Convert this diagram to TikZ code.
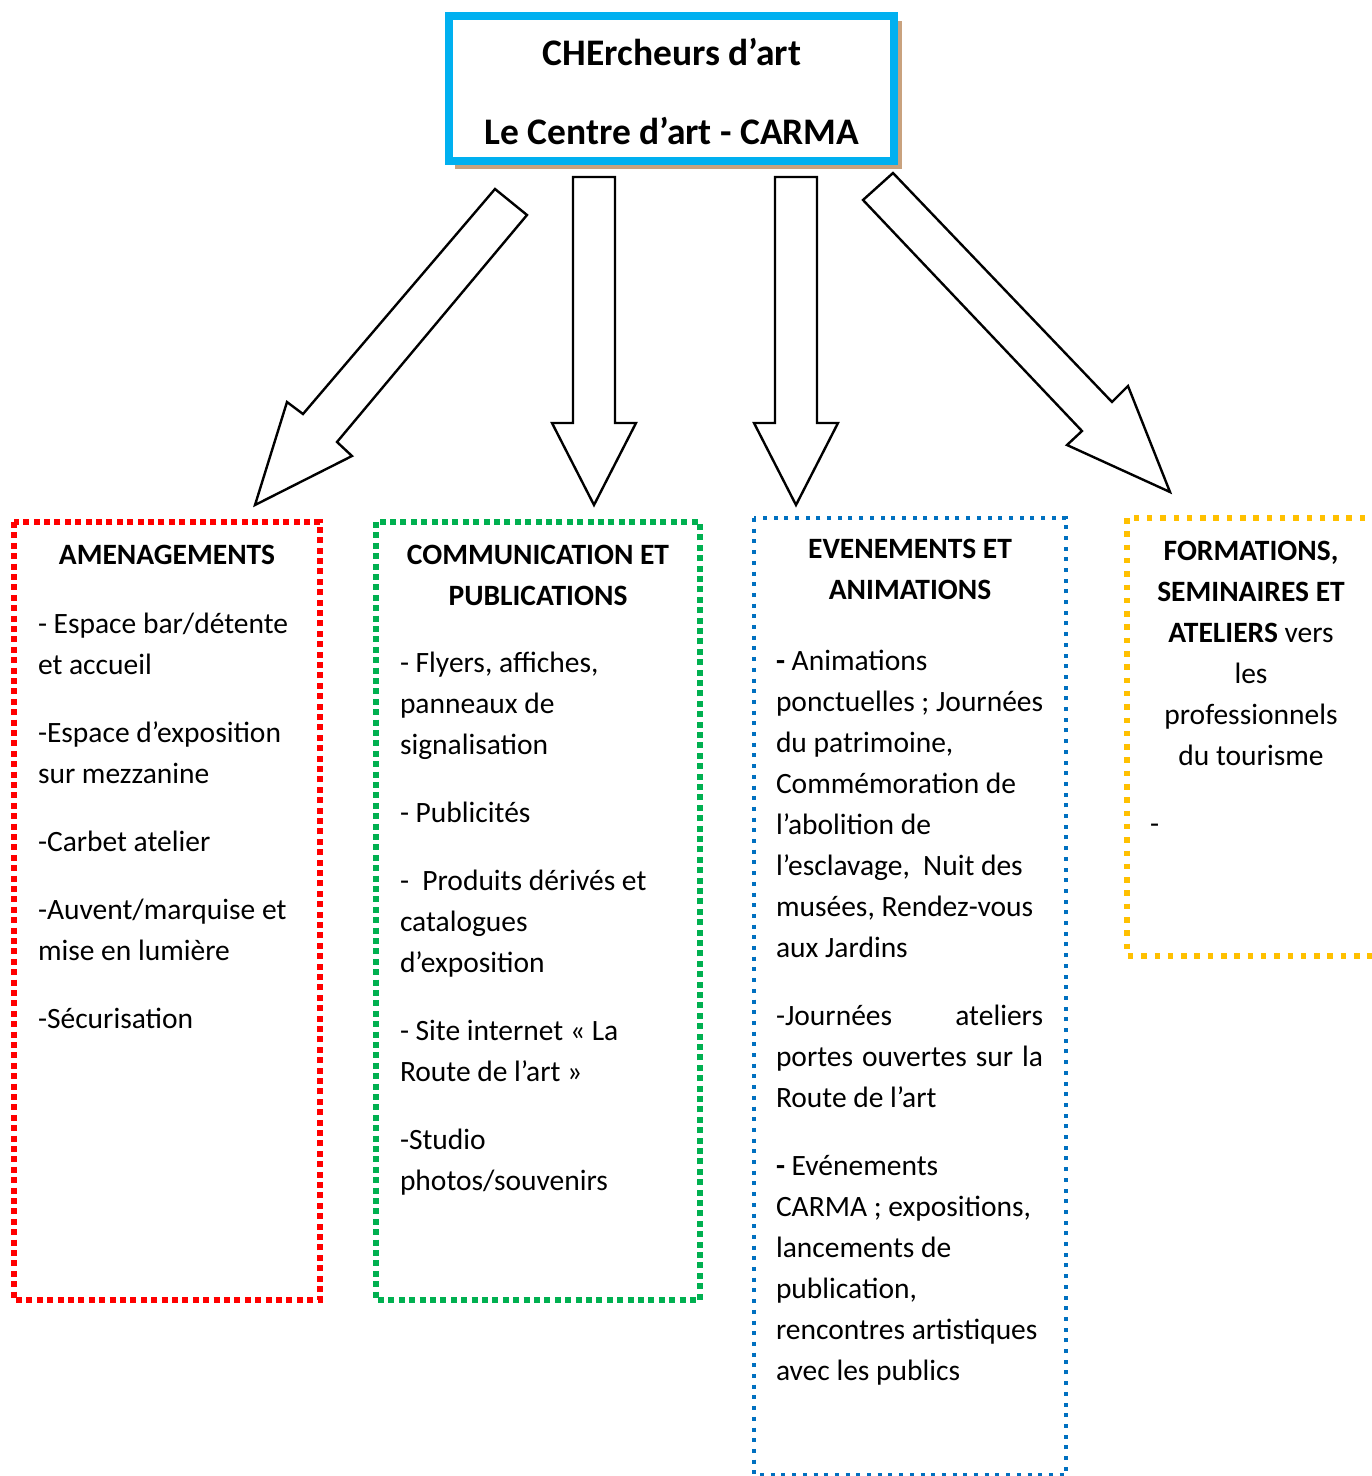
\documentclass[tikz,border=0pt]{standalone}
\usepackage{fontspec}
\setmainfont{Carlito}
\definecolor{topblue}{HTML}{00B0F0}
\definecolor{shadowtan}{HTML}{C9A27E}
\definecolor{boxred}{HTML}{FF0000}
\definecolor{boxgreen}{HTML}{00B050}
\definecolor{boxblue}{HTML}{0070C0}
\definecolor{boxyellow}{HTML}{FFC000}
\tikzset{
  blockarrow/.style={draw=black, line width=2.4pt, fill=white, line join=miter},
  redbox/.style={draw=boxred, line width=6pt, dash pattern=on 6pt off 4.4pt},
  greenbox/.style={draw=boxgreen, line width=6pt, dash pattern=on 6pt off 4.4pt},
  bluebox/.style={draw=boxblue, line width=4pt, dash pattern=on 4pt off 6.7pt},
  yellowbox/.style={draw=boxyellow, line width=5.5pt, dash pattern=on 5.5pt off 7.8pt},
  txt/.style={inner sep=0pt, outer sep=0pt, font=\fontsize{29.5}{41}\selectfont, align=left},
  ctxt/.style={inner sep=0pt, outer sep=0pt, font=\fontsize{29.5}{41}\selectfont, align=center},
  htxt/.style={ctxt, font=\fontsize{29.5}{41}\selectfont\bfseries},
  title/.style={inner sep=0pt, outer sep=0pt, font=\fontsize{37.5}{44}\selectfont\bfseries},
}
\begin{document}
\begin{tikzpicture}[x=1pt,y=-1pt]
\useasboundingbox (0,0) rectangle (1372,1476);
% top box
\fill[shadowtan] (455,21) rectangle (902,169);
\draw[topblue, line width=8pt, fill=white] (449,15.5) rectangle (893.5,160.5);
\node[title, anchor=base] (t1) at (672,65) {CHErcheurs d’art};
\node[title, anchor=base] (t2) at (672,144) {Le Centre d’art - CARMA};
% arrows
\draw[blockarrow] (495,189) -- (527,215) -- (337,442) -- (352,456) -- (255,505) -- (287,402) -- (303,414) -- cycle;
\draw[blockarrow] (573,177) -- (615,177) -- (615,423) -- (636,423) -- (594,505) -- (552,423) -- (573,423) -- cycle;
\draw[blockarrow] (775,177) -- (817,177) -- (817,423) -- (838,423) -- (796,505) -- (754,423) -- (775,423) -- cycle;
\draw[blockarrow] (893,173) -- (1112,402) -- (1128,386) -- (1170,492) -- (1067,445) -- (1082,431) -- (863,200) -- cycle;
% boxes
\draw[redbox] (14,522) rectangle (320,1300);
\draw[greenbox] (376,522) rectangle (700,1300);
\draw[bluebox] (754,518) rectangle (1066,1475);
\draw[yellowbox] (1127,518) rectangle (1380,956);
% red texts
\node[htxt, anchor=base] (amenH) at (167,564) {AMENAGEMENTS};
\node[txt, anchor=base west] (amenB) at (38,1028) {- Espace bar/détente\\ et accueil\\[27pt]
-Espace d’exposition\\ sur mezzanine\\[27pt]
-Carbet atelier\\[27pt]
-Auvent/marquise et\\ mise en lumière\\[27pt]
-Sécurisation};
% green texts
\node[htxt, anchor=base] (comH) at (538,605) {COMMUNICATION ET\\ PUBLICATIONS};
\node[txt, anchor=base west] (comB) at (400,1190) {- Flyers, affiches,\\ panneaux de\\ signalisation\\[27pt]
- Publicités\\[27pt]
-\ \ Produits dérivés et\\ catalogues\\ d’exposition\\[27pt]
- Site internet « La\\ Route de l’art »\\[27pt]
-Studio\\ photos/souvenirs};
% blue texts
\node[htxt, anchor=base] (evH) at (910,599) {EVENEMENTS ET\\ ANIMATIONS};
\node[txt, anchor=base west] (evB) at (776,1380) {\textbf{-} Animations\\ ponctuelles ; Journées\\ du patrimoine,\\ Commémoration de\\ l’abolition de\\ l’esclavage,\ \ Nuit des\\ musées, Rendez-vous\\ aux Jardins\\[27pt]
\hbox to 267pt{-Journées\hfill ateliers}\\ \makebox[267pt][s]{portes ouvertes sur la}\\ Route de l’art\\[27pt]
\textbf{-} Evénements\\ CARMA ; expositions,\\ lancements de\\ publication,\\ rencontres artistiques\\ avec les publics};
% yellow texts
\node[ctxt, anchor=base] (foH) at (1251,765) {\textbf{FORMATIONS,}\\ \textbf{SEMINAIRES ET}\\ \textbf{ATELIERS} vers\\ les\\ professionnels\\ du tourisme};
\node[txt, anchor=base west] (foD) at (1150,833) {-};
\end{tikzpicture}
\end{document}
